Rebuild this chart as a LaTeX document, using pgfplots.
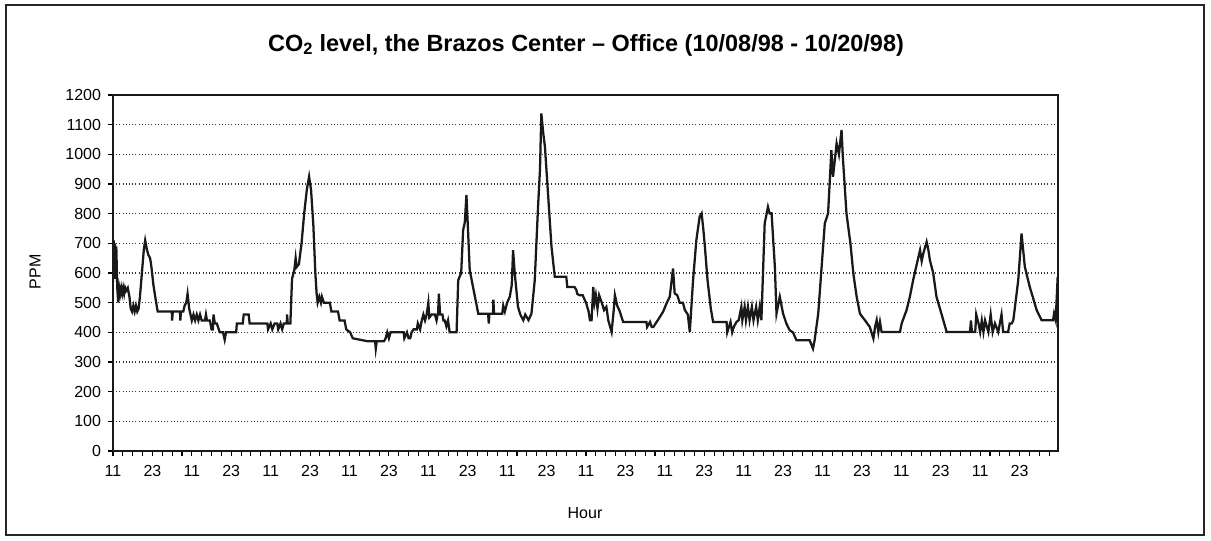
\documentclass[border=0pt]{standalone}
\usepackage{pgfplots}
\pgfplotsset{compat=1.18}
\usepackage{fontspec}
\setmainfont{Liberation Sans}
\begin{document}
\begin{tikzpicture}[x=0.75pt,y=0.75pt]
\path[use as bounding box] (0,0) rectangle (1211,540);
\draw[line width=1pt, black!85] (6,5) rectangle (1204,535);
\node[font=\fontsize{17.6}{20}\selectfont\bfseries] at (586,495) {CO\textsubscript{2} level, the Brazos Center -- Office (10/08/98 - 10/20/98)};
\node[font=\fontsize{12}{14}\selectfont, rotate=90] at (35,268) {PPM};
\node[font=\fontsize{12}{14}\selectfont] at (585,27) {Hour};
\begin{axis}[
  at={(84.75pt,66.75pt)}, anchor=south west,
  scale only axis, width=708.75pt, height=267pt,
  xmin=0, xmax=287.7, ymin=0, ymax=1200,
  axis line style={line width=0.9pt, black!90},
  ytick={0,100,...,1200},
  xtick={0,12,...,276},
  xticklabels={11,23,11,23,11,23,11,23,11,23,11,23,11,23,11,23,11,23,11,23,11,23,11,23},
  minor xtick={0,3,...,287},
  tick align=outside, tick pos=left,
  major tick length=3.5pt, minor tick length=3.5pt,
  every tick/.style={black, line width=0.8pt},
  ymajorgrids,
  major grid style={black!80, dotted, line width=0.9pt},
  tick label style={font=\fontsize{12}{14}\selectfont},
  /pgf/number format/assume math mode=true,
  /pgf/number format/set thousands separator={},
  yticklabel style={xshift=-2pt},
  xticklabel style={yshift=-4pt},
]
\addplot[black!90, line width=1.7pt, sharp plot, mark=none, line join=miter] table {
x y
0 570
0.2 710
0.4 600
0.6 700
0.8 580
1.0 690
1.3 550
1.6 500
1.9 550
2.2 530
2.5 550
2.8 530
3.1 550
3.4 530
3.7 550
4.0 540
4.5 550
5.0 520
5.4 480
5.8 470
6.2 490
6.6 470
7.0 490
7.4 470
7.8 480
8.2 520
8.8 600
9.4 680
9.8 710
10.3 680
10.8 660
11.3 650
11.7 620
12.3 560
13.0 510
13.6 470
17.9 470
18.0 440
18.2 470
20.4 470
20.5 440
20.7 470
21.4 470
21.8 490
22.3 500
22.7 530
23.2 480
23.6 460
24.0 440
24.5 460
25.0 440
25.5 460
26.0 440
26.5 460
27.0 440
28.0 440
28.3 460
28.6 440
29.5 440
30.0 410
30.4 410
30.6 460
31.0 430
31.6 430
32.5 400
33.5 400
34.0 375
34.4 400
37.5 400
37.7 430
39.5 430
39.8 460
41.3 460
41.6 430
47.0 430
47.2 410
48.0 430
48.5 410
49.2 430
50.0 430
50.3 410
51.0 430
51.5 410
52.0 430
52.9 430
53.0 460
53.2 430
54.0 430
54.5 580
55.2 610
55.6 650
55.9 620
56.6 630
57.4 700
58.2 800
59.0 880
59.7 925
60.3 880
61.0 760
61.6 600
62.0 530
62.3 500
62.8 520
63.3 500
63.6 520
64.2 500
66.0 500
66.5 470
68.5 470
69.0 440
70.5 440
71.0 410
72.2 400
73.0 380
77.5 370
79.8 370
80.0 345
80.3 370
82.5 370
83.0 380
83.5 400
84.0 380
84.5 400
88.5 400
88.7 380
89.5 400
90.0 380
90.5 380
90.9 400
91.5 410
92.5 410
92.8 430
93.5 410
94.0 440
94.5 460
95.0 440
95.5 460
96.0 500
96.3 450
97.0 460
98.0 460
98.5 440
99.0 470
99.2 530
99.6 460
100.3 460
100.6 440
101.0 440
101.5 420
102.0 440
102.5 400
104.6 400
105.1 576
106.0 600
106.6 745
107.1 770
107.6 863
108.1 740
108.6 610
109.6 553
110.6 497
111.2 463
114.2 463
114.4 430
114.6 463
115.7 463
115.8 510
116.0 463
118.5 463
118.8 490
119.3 470
120.0 500
120.8 520
121.4 560
121.8 677
122.3 600
123.3 486
124.0 460
124.9 441
125.5 460
126.5 441
127.4 463
128.4 576
129.4 823
130.0 950
130.4 1138
131.0 1070
131.5 1026
132.5 857
133.5 688
134.5 587
138.0 587
138.3 553
140.5 553
141.1 542
141.3 530
142.0 525
143.0 525
144.1 497
144.8 470
145.2 441
145.7 441
146.2 553
146.6 500
147.0 525
147.5 480
148.0 525
148.8 500
149.5 475
150.2 486
150.8 440
151.8 401
152.4 470
152.8 525
153.5 490
154.3 470
155.3 435
162.4 435
162.6 418
163.5 435
164.0 418
164.5 418
166.5 452
167.5 470
168.5 497
169.5 520
170.5 615
171.0 531
171.8 525
172.5 500
173.5 500
174.1 475
175.0 460
175.6 401
176.6 576
177.6 711
178.6 790
179.2 801
179.7 750
180.2 688
181.0 576
182.0 480
182.7 435
186.8 435
187.0 400
187.5 418
188.0 435
188.5 400
189.0 418
189.8 435
190.5 441
191.3 486
191.6 441
192.3 486
192.7 441
193.3 486
193.8 441
194.5 486
195.0 441
195.8 486
196.3 441
196.9 486
197.4 441
198.4 767
199.4 823
199.9 801
200.5 801
201.5 621
202.0 463
203.0 520
204.0 463
205.0 430
206.0 407
207.0 400
208.1 373
212.1 373
213.1 345
213.6 373
214.7 463
216.7 767
217.7 801
218.7 1014
219.2 924
220.3 1037
221.0 1000
221.8 1082
222.2 990
223.3 801
224.5 700
225.4 598
226.4 520
227.4 463
228.9 441
230.4 418
231.5 379
232.0 418
232.5 441
233.0 401
233.5 435
234.0 401
239.6 401
240.1 430
241.6 475
242.6 520
243.6 576
244.5 620
245.7 677
246.2 640
246.7 666
247.7 705
248.2 680
248.7 643
249.7 600
250.7 520
252.2 463
253.8 401
260.9 401
261.2 440
261.5 401
262.5 401
262.8 460
263.5 430
264.0 401
264.5 440
265.0 401
265.5 440
266.5 401
267.2 460
267.8 401
268.5 430
269.5 401
270.5 460
271.0 401
272.5 401
273.0 430
273.6 430
274.1 441
275.6 576
276.6 733
277.6 621
279.1 553
280.0 520
281.2 475
282.7 441
286.2 441
286.5 463
287.0 441
287.6 587
};
\end{axis}
\end{tikzpicture}
\end{document}
